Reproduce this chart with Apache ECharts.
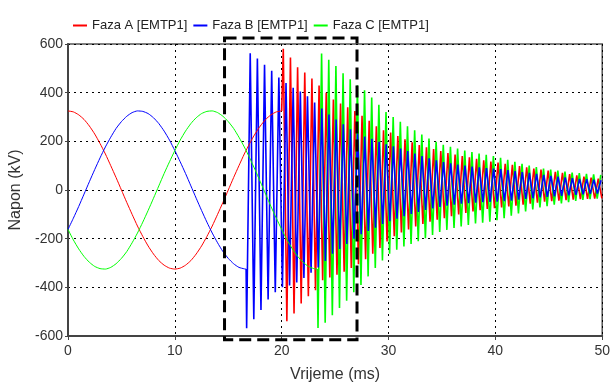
<!DOCTYPE html>
<html>
<head>
<meta charset="utf-8">
<script src="https://cdn.jsdelivr.net/npm/echarts@6/dist/echarts.min.js"></script>
<style>
  html, body { margin: 0; padding: 0; background: #fff; }
  #chart { width: 613px; height: 388px; }
</style>
</head>
<body>
<div id="chart"></div>
<script>
// Three-phase voltages (kV) versus time (ms), EMTP run.
const seriesNames = ['Faza A [EMTP1]', 'Faza B [EMTP1]', 'Faza C [EMTP1]'];
const xTicks = [0, 10, 20, 30, 40, 50];
const yTicks = [-600, -400, -200, 0, 200, 400, 600];

// Steady-state 50 Hz part, one sample every 0.5 ms starting at t = 0
const sineStep = 0.5;
const sineA = [325, 321, 309, 290, 263, 230, 191, 148, 100, 51, 0,
  -51, -100, -148, -191, -230, -263, -290, -309, -321, -325,
  -321, -309, -290, -263, -230, -191, -148, -100, -51, 0,
  51, 100, 148, 191, 230, 263, 290, 309, 321, 325];
const sineB = [-162, -116, -68, -17, 34, 84, 132, 177, 217, 253, 281,
  303, 318, 325, 323, 314, 297, 273, 242, 205, 162,
  116, 68, 17, -34, -84, -132, -177, -217, -253, -281,
  -303, -318, -324];
const sineC = [-162, -205, -242, -273, -297, -314, -323, -325, -318, -303, -281,
  -253, -217, -177, -132, -84, -34, 17, 68, 116, 162,
  205, 242, 273, 297, 314, 323, 325, 318, 303, 281,
  253, 217, 177, 132, 84, 34, -17, -68, -116, -162,
  -205, -242, -273, -297, -314, -323];

// Switching instants (ms) and the voltage at that instant (kV)
const switchA = [20.0, 325];
const switchB = [16.67, -325];
const switchC = [23.33, -325];

// Transient ringing: one period (ms) and the successive extremes per cycle
const ringPeriod = 0.67;
const firstExtremeA = 20.15, firstExtremeB = 16.72, firstExtremeC = 23.40;

const peaksA = [580, 544, 504, 483, 458, 429, 400, 372, 355, 340, 325, 305, 285, 262, 245, 236, 222, 208, 196, 185,
  176, 168, 160, 152, 146, 140, 134, 128, 122, 117, 113, 108, 103, 98, 93, 88, 84, 80, 75, 70, 65, 60, 55, 51, 47];
const troughsA = [-539, -507, -466, -437, -412, -371, -360, -348, -336, -320, -305, -285, -262, -238, -212, -190, -175, -162, -150, -140,
  -130, -122, -116, -108, -100, -94, -88, -83, -78, -75, -72, -68, -64, -60, -56, -52, -48, -46, -44, -42, -40, -38, -36, -35, -34];

const troughsB = [-568, -531, -493, -450, -420, -400, -392, -380, -362, -340, -318, -292, -262, -242, -222, -200, -182, -168, -155, -140,
  -128, -118, -108, -98, -90, -82, -76, -70, -64, -60, -56, -54, -52, -50, -49, -48, -46, -44, -40, -37,
  -34, -30, -28, -26, -24, -22, -20, -18, -16, -15];
const peaksB = [562, 540, 515, 490, 462, 440, 420, 405, 385, 360, 335, 310, 290, 270, 250, 232, 220, 210, 198, 188,
  180, 170, 160, 150, 140, 130, 122, 115, 110, 105, 100, 96, 93, 90, 88, 86, 82, 78, 74, 70,
  66, 62, 58, 55, 52, 49, 46, 44, 42, 40];

const troughsC = [-567, -545, -515, -485, -455, -420, -390, -355, -320, -290, -262, -245, -232, -222, -210, -198, -185, -172, -164, -156,
  -150, -144, -138, -134, -130, -124, -116, -106, -96, -88, -80, -72, -66, -60, -55, -50, -45, -41, -38, -35];
const peaksC = [561, 535, 510, 480, 455, 430, 410, 380, 350, 320, 300, 280, 262, 245, 228, 212, 198, 186, 178, 170,
  162, 156, 150, 145, 140, 132, 124, 116, 108, 100, 94, 88, 84, 80, 76, 72, 69, 66, 64, 62];

// Dashed frame around the switching interval (data units)
const frameBox = { tStart: 14.65, tEnd: 27.05, vTop: 625, vBottom: -615 };

const colors = ['#ff0000', '#0000ff', '#00ff00'];

function sinePart(values, sw) {
  const pts = values.map((v, i) => [i * sineStep, v]);
  const last = pts[pts.length - 1];
  if (last[0] !== sw[0]) pts.push([sw[0], sw[1]]);
  return pts;
}

// first / second: extremes in the order they occur within each cycle
function ringPart(sw, tFirst, first, second) {
  const pts = [[sw[0], sw[1]]];
  for (let k = 0; k < first.length; k++) {
    const t = tFirst + k * ringPeriod;
    pts.push([t, first[k]]);
    if (k < second.length) pts.push([t + ringPeriod / 2, second[k]]);
  }
  return pts;
}

const sineData = [sinePart(sineA, switchA), sinePart(sineB, switchB), sinePart(sineC, switchC)];
const ringData = [
  ringPart(switchA, firstExtremeA, peaksA, troughsA),
  ringPart(switchB, firstExtremeB, troughsB, peaksB),
  ringPart(switchC, firstExtremeC, troughsC, peaksC)
];

function ringSeries(i) {
  return {
    name: seriesNames[i], type: 'line', data: ringData[i],
    showSymbol: false, symbol: 'none', smooth: false,
    lineStyle: { color: colors[i], width: 1.6 }, itemStyle: { color: colors[i] },
    animation: false
  };
}
function sineSeries(i) {
  return {
    name: seriesNames[i], type: 'line', data: sineData[i],
    showSymbol: false, symbol: 'none', smooth: 0.2,
    lineStyle: { color: colors[i], width: 1 }, itemStyle: { color: colors[i] },
    animation: false
  };
}

// Ringing of A, then C, then the smaller B ringing on top; 50 Hz traces over all
const series = [ringSeries(0), ringSeries(2), ringSeries(1), sineSeries(0), sineSeries(1), sineSeries(2)];

const chart = echarts.init(document.getElementById('chart'), null, { renderer: 'canvas' });
const fontFam = 'Liberation Sans, Arial, sans-serif';

chart.setOption({
  animation: false,
  backgroundColor: '#fff',
  color: colors,
  legend: {
    data: seriesNames, left: 68, top: 14, icon: 'rect', itemWidth: 14, itemHeight: 2, itemGap: 6,
    textStyle: { fontFamily: fontFam, fontSize: 13, color: '#222' }
  },
  grid: { left: 68, right: 9, top: 44, bottom: 49, show: true, borderColor: '#555', borderWidth: 1.5 },
  xAxis: {
    type: 'value', min: xTicks[0], max: xTicks[xTicks.length - 1], interval: 10,
    name: 'Vrijeme (ms)', nameLocation: 'middle', nameGap: 31,
    nameTextStyle: { fontFamily: fontFam, fontSize: 16, color: '#333' },
    axisLine: { show: true, onZero: false, lineStyle: { color: '#444', width: 2 } },
    axisTick: { show: true, length: 4, lineStyle: { color: '#444' } },
    axisLabel: { margin: 8, fontFamily: fontFam, fontSize: 14, color: '#333' },
    splitLine: { show: true, lineStyle: { color: '#000', type: [2, 4], width: 1 } }
  },
  yAxis: {
    type: 'value', min: yTicks[0], max: yTicks[yTicks.length - 1], interval: 200,
    name: 'Napon (kV)', nameLocation: 'middle', nameGap: 39,
    nameTextStyle: { fontFamily: fontFam, fontSize: 16, color: '#333' },
    axisLine: { show: true, onZero: false, lineStyle: { color: '#444', width: 2 } },
    axisTick: { show: true, length: 3, lineStyle: { color: '#444' } },
    axisLabel: { margin: 5, fontFamily: fontFam, fontSize: 14, color: '#333' },
    splitLine: { show: true, lineStyle: { color: '#000', type: [2, 4], width: 1 } }
  },
  series: series
});

// Dashed frame placed through the axis scales
const p0 = chart.convertToPixel({ xAxisIndex: 0, yAxisIndex: 0 }, [frameBox.tStart, frameBox.vTop]);
const p1 = chart.convertToPixel({ xAxisIndex: 0, yAxisIndex: 0 }, [frameBox.tEnd, frameBox.vBottom]);
chart.setOption({
  graphic: [{
    type: 'rect', z: 100,
    shape: { x: p0[0], y: p0[1], width: p1[0] - p0[0], height: p1[1] - p0[1] },
    style: { fill: null, stroke: '#000', lineWidth: 3, lineDash: [12, 6] }
  }]
});
</script>
</body>
</html>
